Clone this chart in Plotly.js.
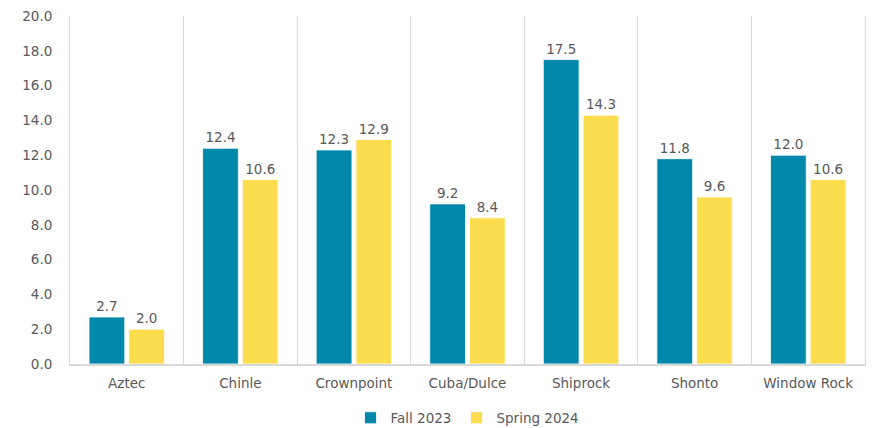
<!DOCTYPE html>
<html>
<head>
<meta charset="utf-8">
<script src="https://cdn.plot.ly/plotly-3.0.1.min.js"></script>
<style>html,body{margin:0;padding:0;background:#fff;}#chart{width:875px;height:428px;}</style>
</head>
<body>
<div id="chart"></div>
<script>
const categories = ["Aztec", "Chinle", "Crownpoint", "Cuba/Dulce", "Shiprock", "Shonto", "Window Rock"];
const fall2023 = [2.7, 12.4, 12.3, 9.2, 17.5, 11.8, 12.0];
const spring2024 = [2.0, 10.6, 12.9, 8.4, 14.3, 9.6, 10.6];
const yTicks = [0, 2, 4, 6, 8, 10, 12, 14, 16, 18, 20];

const fam = "Verdana, 'DejaVu Sans', sans-serif";
const textFont = {family: fam, size: 13.5, color: "#595959"};

const traces = [
  {type: "bar", name: "Fall 2023", x: categories, y: fall2023,
   marker: {color: "#0288AA", line: {color: "#ffffff", width: 0.8}},
   texttemplate: "%{y:.1f}", textposition: "outside", textfont: textFont, cliponaxis: false,
   hoverinfo: "x+y"},
  {type: "bar", name: "Spring 2024", x: categories, y: spring2024,
   marker: {color: "#FBDD4E", line: {color: "#ffffff", width: 0.8}},
   texttemplate: "%{y:.1f}", textposition: "outside", textfont: textFont, cliponaxis: false,
   hoverinfo: "x+y"}
];

const layout = {
  width: 875, height: 428,
  margin: {l: 70, r: 10, t: 16, b: 64, autoexpand: false},
  paper_bgcolor: "#ffffff", plot_bgcolor: "#ffffff",
  font: {family: fam, size: 13.5, color: "#595959"},
  barmode: "group", bargap: 0.3, bargroupgap: 0.1,
  showlegend: true,
  legend: {orientation: "h", x: 0.5, xanchor: "center", y: 10, yref: "container", yanchor: "middle",
           font: {size: 13.5, color: "#595959", family: fam}, traceorder: "normal"},
  xaxis: {type: "category", tickson: "boundaries", showgrid: true, gridcolor: "#d9d9d9", gridwidth: 1,
          showline: true, linecolor: "#d9d9d9", linewidth: 1.5, mirror: false,
          ticks: "", ticklabelstandoff: 6, tickfont: {size: 13.5, color: "#595959", family: fam},
          range: [-0.5, 6.5]},
  yaxis: {range: [0, 20], tickvals: yTicks, tickformat: ".1f", showgrid: false, zeroline: false,
          showline: true, linecolor: "#d9d9d9", linewidth: 1, mirror: true,
          ticks: "", ticklabelstandoff: 14,
          tickfont: {size: 13.5, color: "#595959", family: fam}}
};
layout.legend.y = 10 / 428;

Plotly.newPlot("chart", traces, layout, {displayModeBar: false, staticPlot: true});
</script>
</body>
</html>
